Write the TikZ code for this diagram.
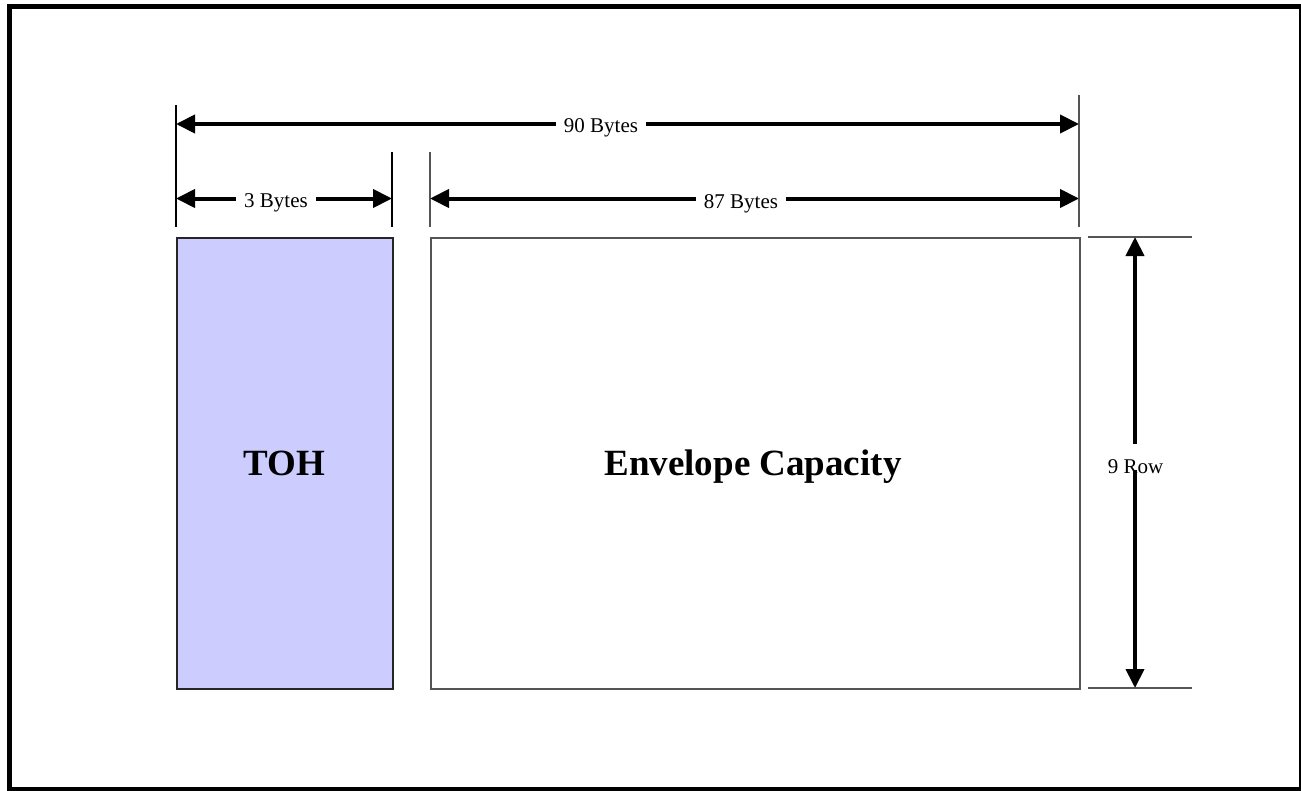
\documentclass[tikz,border=0pt]{standalone}
\usepackage{fontspec}
\setmainfont{Liberation Serif}
\usetikzlibrary{arrows.meta}
\definecolor{tohfill}{HTML}{CCCCFF}
\definecolor{edgegray}{HTML}{555555}
\tikzset{
  tipshape/.style={Triangle[length=19pt,width=18pt]},
  dimarrow/.style={line width=4pt,{Triangle[length=19pt,width=18pt]}-{Triangle[length=19pt,width=18pt]}},
  dimtip/.style={line width=4pt,-{Triangle[length=19pt,width=18pt]}},
  extline/.style={line width=1.5pt},
  dimlabel/.style={fill=white,inner xsep=8pt,inner ysep=0pt,anchor=base,font=\fontsize{21}{25}\selectfont},
  bigbox/.style={line width=1.5pt,inner sep=0pt,anchor=north west},
  bigtext/.style={anchor=base,font=\fontsize{37}{44}\selectfont\bfseries}
}
\begin{document}
\begin{tikzpicture}[x=1pt,y=-1pt]
\useasboundingbox (0,0) rectangle (1301,790);
\begin{scope}
\clip (0,0) rectangle (1301,790);
\draw[line width=5pt] (9.5,6.5) rectangle (1301.5,789.5);
\end{scope}
% boxes
\node[bigbox,draw=black!85,fill=tohfill,minimum width=216pt,minimum height=451pt] (toh) at (176,237) {};
\node[bigbox,draw=edgegray,minimum width=649pt,minimum height=451pt] (env) at (430,237) {};
\node[bigtext] (tohlbl) at (284,475) {TOH};
\node[bigtext] (envlbl) at (753,475) {Envelope Capacity};
% extension lines
\coordinate (e1t) at (176,105); \coordinate (e1b) at (176,227);
\coordinate (e2t) at (392,152); \coordinate (e2b) at (392,227);
\coordinate (e3t) at (430,152); \coordinate (e3b) at (430,227);
\coordinate (e4t) at (1079,95); \coordinate (e4b) at (1079,227);
\draw[extline,black] (e1t) -- (e1b);
\draw[extline,black] (e2t) -- (e2b);
\draw[extline,edgegray] (e3t) -- (e3b);
\draw[extline,edgegray] (e4t) -- (e4b);
\coordinate (h1a) at (1088,237); \coordinate (h1b) at (1192,237);
\coordinate (h2a) at (1088,688); \coordinate (h2b) at (1192,688);
\draw[extline,edgegray] (h1a) -- (h1b);
\draw[extline,edgegray] (h2a) -- (h2b);
% 90 bytes
\coordinate (a90l) at (176,124); \coordinate (a90r) at (1079,124);
\draw[dimarrow] (a90l) -- (a90r);
\node[dimlabel] (l90) at (601,132) {90 Bytes};
% 3 bytes
\coordinate (a3l) at (176,198.5); \coordinate (a3r) at (392,198.5);
\draw[dimarrow] (a3l) -- (a3r);
\node[dimlabel] (l3) at (276,207.5) {3 Bytes};
% 87 bytes
\coordinate (a87l) at (430,198.5); \coordinate (a87r) at (1079,198.5);
\draw[dimarrow] (a87l) -- (a87r);
\node[dimlabel] (l87) at (741,208) {87 Bytes};
% 9 row
\coordinate (r9top) at (1135,237); \coordinate (r9bot) at (1135,688);
\coordinate (r9a) at (1135,444); \coordinate (r9b) at (1135,470);
\node[anchor=base,font=\fontsize{21}{25}\selectfont,inner sep=0pt] (l9) at (1135.5,473) {9 Row};
\draw[dimtip] (r9a) -- (r9top);
\draw[dimtip] (r9b) -- (r9bot);
\end{tikzpicture}
\end{document}
